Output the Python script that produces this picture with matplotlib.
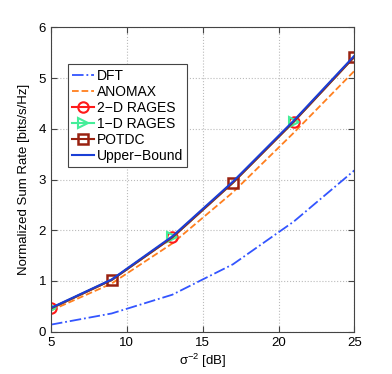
import matplotlib
matplotlib.use("Agg")
import matplotlib.pyplot as plt

plt.rcParams['font.family'] = ['Liberation Sans', 'DejaVu Sans']

# SNR points (dB) and sum rates
snr = [5, 9, 13, 17, 21, 25]
dft = [0.14, 0.36, 0.73, 1.33, 2.17, 3.18]
anomax = [0.42, 0.95, 1.74, 2.75, 3.92, 5.14]
rages_2d = [0.46, 1.02, 1.86, 2.94, 4.14, 5.42]
rages_1d = [0.46, 1.02, 1.86, 2.94, 4.14, 5.42]
potdc = [0.46, 1.02, 1.86, 2.94, 4.14, 5.42]
upper = [0.47, 1.03, 1.88, 2.96, 4.16, 5.44]

fig = plt.figure(figsize=(3.92, 3.74), dpi=100)
ax = fig.add_axes([0.130, 0.113, 0.774, 0.814])

ax.plot(snr, dft, color='#3355ff', linestyle='-.', lw=1.3, label='DFT')
ax.plot(snr, anomax, color='#ff7f1e', linestyle='--', lw=1.3, label='ANOMAX')
ax.plot(snr, rages_2d, color='#ff1a1a', lw=1.5, marker='o', markersize=7.5,
        markerfacecolor='none', markeredgewidth=1.5, markevery=[0, 2, 4],
        label='2\u2212D RAGES')
ax.plot(snr, rages_1d, color='#44ee99', lw=1.5, marker='>', markersize=7.5,
        markerfacecolor='none', markeredgewidth=1.5, markevery=[0, 2, 4],
        label='1\u2212D RAGES')
ax.plot(snr, potdc, color='#992211', lw=1.5, marker='s', markersize=7,
        markerfacecolor='none', markeredgewidth=1.8, markevery=[1, 3, 5],
        label='POTDC')
ax.plot(snr, upper, color='#1a3fd6', lw=1.5, label='Upper\u2212Bound')

ax.set_xlim(5, 25)
ax.set_ylim(0, 6)
ax.set_xticks([5, 10, 15, 20, 25])
ax.set_yticks([0, 1, 2, 3, 4, 5, 6])
ax.tick_params(direction='in', top=True, right=True, labelsize=9.5, length=4,
               color='#444444')
for s in ax.spines.values():
    s.set_color('#444444')
ax.grid(True, linestyle=':', color='#bbbbbb', lw=0.8)

ax.set_xlabel('\u03c3' + r'$^{\mathregular{-2}}$' + ' [dB]', fontsize=9.5, labelpad=2)
ax.set_ylabel('Normalized Sum Rate [bits/s/Hz]', fontsize=9.5, labelpad=6)

leg = ax.legend(loc='upper left', bbox_to_anchor=(0.055, 0.878), fontsize=10,
                handlelength=1.6, handletextpad=0.2, labelspacing=0.15,
                borderpad=0.3, borderaxespad=0, fancybox=False, framealpha=1,
                edgecolor='#444444')
leg.get_frame().set_linewidth(0.8)

fig.savefig('out.png', dpi=100)
